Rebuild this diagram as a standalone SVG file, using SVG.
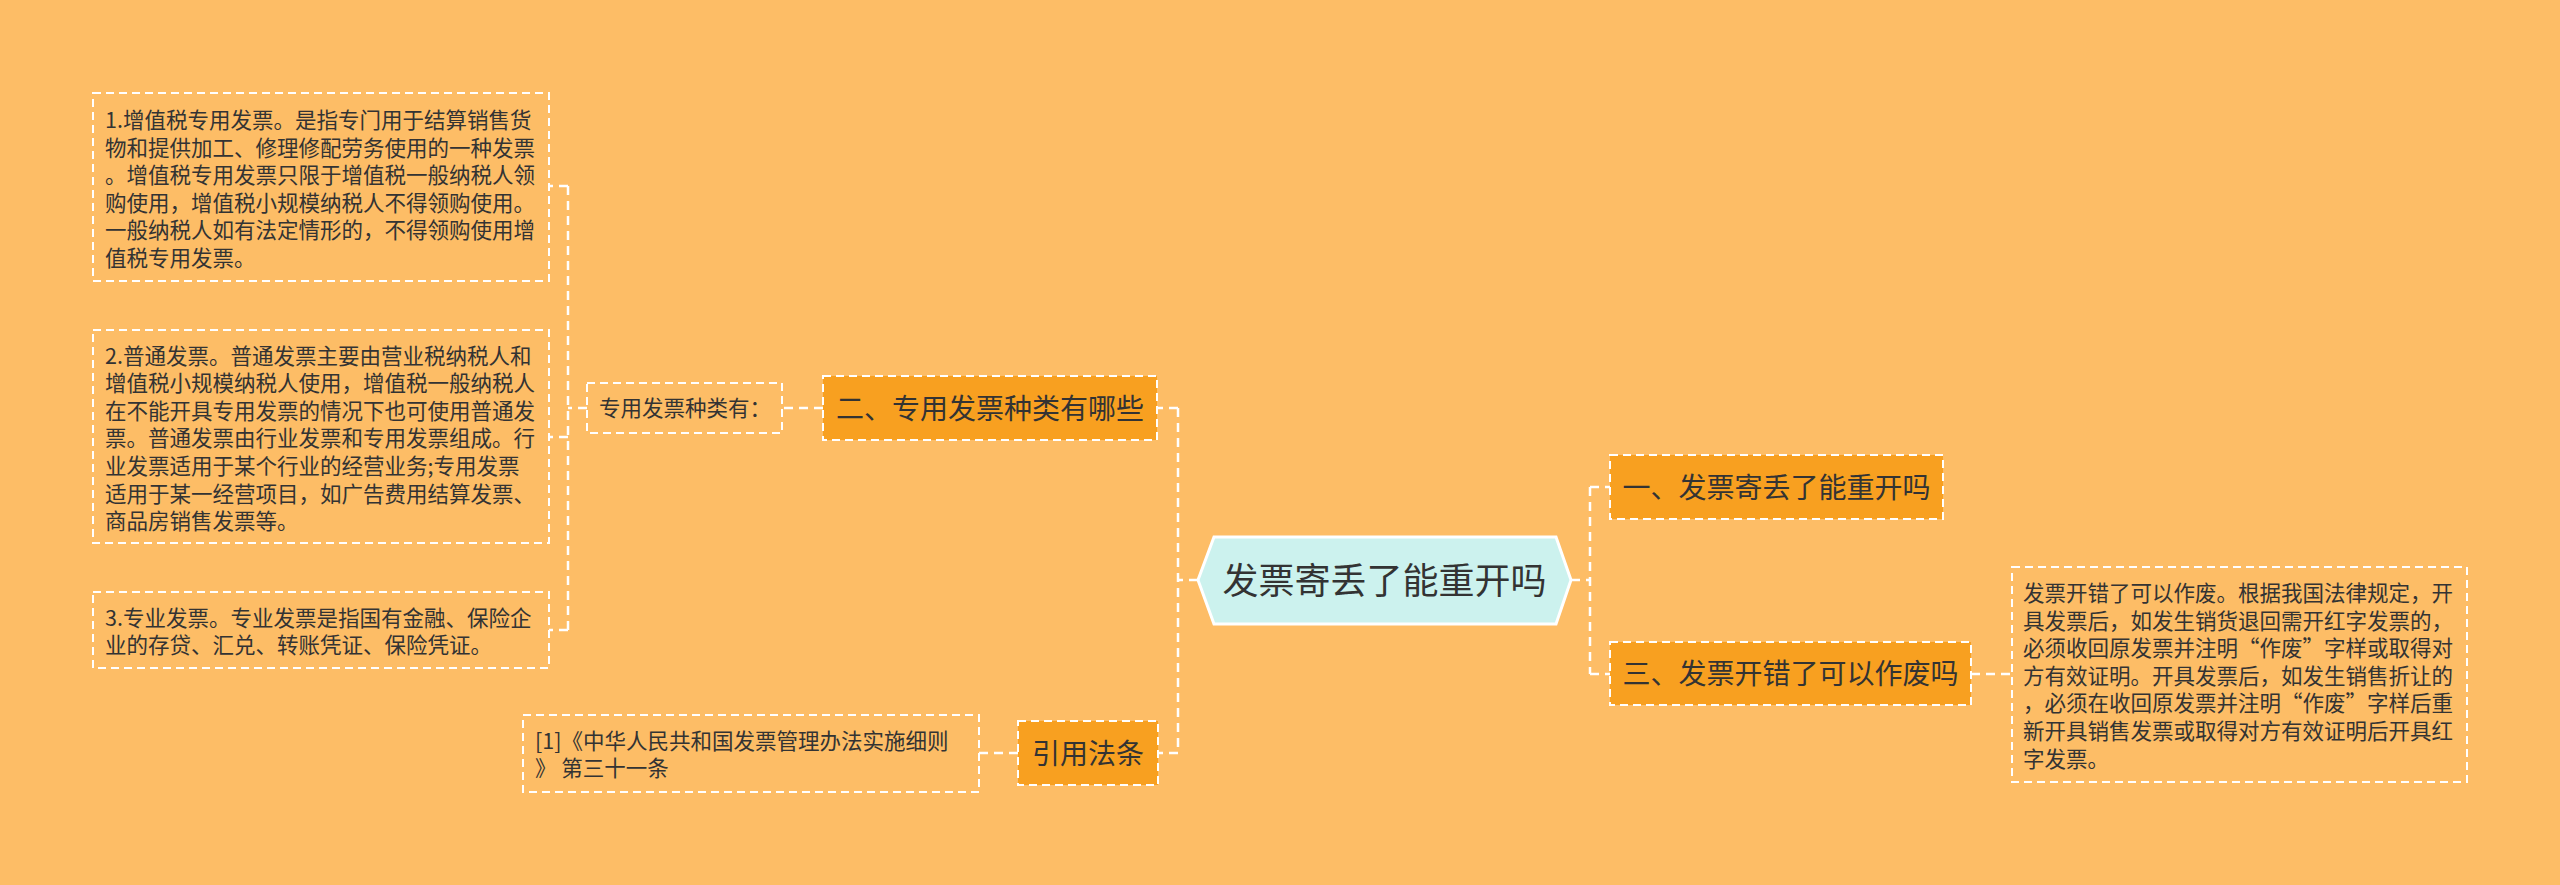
<svg xmlns="http://www.w3.org/2000/svg" width="2560" height="885" viewBox="0 0 2560 885">
<style>
.bg{fill:#FDBD66}
.leaf{fill:none;stroke:#FFFFFF;stroke-width:2;stroke-dasharray:8 5}
.l1{fill:#F8A020;stroke:#FFFFFF;stroke-width:2;stroke-dasharray:8 5}
.root{fill:#CCF2EE;stroke:#FFFFFF;stroke-width:3}
.conn{fill:none;stroke:#FFFFFF;stroke-width:2.5;stroke-dasharray:9 6}
text{font-family:"Noto Sans CJK SC","Noto Sans",sans-serif;fill:#333333}
.t-s{font-size:21.5px}
.t-m{font-size:28px}
.t-l{font-size:36px}
</style>
<rect class="bg" x="0" y="0" width="2560" height="885"/>
<g id="connectors">
<path class="conn" d="M1198,580 H1178 M1178,408 V753 M1178,408 H1157 M1178,753 H1158"/>
<path class="conn" d="M823,408 H782 M587,408 H568 M568,186 V630 M568,186 H549 M568,437 H549 M568,630 H549"/>
<path class="conn" d="M1018,753 H979"/>
<path class="conn" d="M1571,580 H1590 M1590,487 V674 M1590,487 H1610 M1590,674 H1610 M1971,674 H2012"/>
</g>
<g id="root">
<polygon class="root" points="1198,580 1214,537 1556,537 1571,580 1556,624 1214,624"/>
<text class="t-l" x="1384.5" y="593.5" text-anchor="middle">发票寄丢了能重开吗</text>
</g>
<g id="n-1">
<rect class="l1" x="1610" y="455" width="333" height="64"/>
<text class="t-m" x="1776.5" y="497.5" text-anchor="middle">一、发票寄丢了能重开吗</text>
</g>
<g id="n-3">
<rect class="l1" x="1610" y="642" width="361" height="63"/>
<text class="t-m" x="1790.5" y="684" text-anchor="middle">三、发票开错了可以作废吗</text>
</g>
<g id="n-3-detail">
<rect class="leaf" x="2012" y="567" width="455" height="215"/>
<text class="t-s" x="2023">
<tspan x="2023" y="601">发票开错了可以作废。根据我国法律规定，开</tspan>
<tspan x="2023" y="628.6">具发票后，如发生销货退回需开红字发票的，</tspan>
<tspan x="2023" y="656.2">必须收回原发票并注明“作废”字样或取得对</tspan>
<tspan x="2023" y="683.8">方有效证明。开具发票后，如发生销售折让的</tspan>
<tspan x="2023" y="711.4">，必须在收回原发票并注明“作废”字样后重</tspan>
<tspan x="2023" y="739">新开具销售发票或取得对方有效证明后开具红</tspan>
<tspan x="2023" y="766.6">字发票。</tspan>
</text>
</g>
<g id="n-2">
<rect class="l1" x="823" y="376" width="334" height="64"/>
<text class="t-m" x="990" y="418.5" text-anchor="middle">二、专用发票种类有哪些</text>
</g>
<g id="n-2-sub">
<rect class="leaf" x="587" y="383" width="195" height="50"/>
<text class="t-s" x="599" y="416">专用发票种类有：</text>
</g>
<g id="n-2-a">
<rect class="leaf" x="93" y="93" width="456" height="188"/>
<text class="t-s">
<tspan x="105" y="128">1.增值税专用发票。是指专门用于结算销售货</tspan>
<tspan x="105" y="155.6">物和提供加工、修理修配劳务使用的一种发票</tspan>
<tspan x="105" y="183.2">。增值税专用发票只限于增值税一般纳税人领</tspan>
<tspan x="105" y="210.8">购使用，增值税小规模纳税人不得领购使用。</tspan>
<tspan x="105" y="238.4">一般纳税人如有法定情形的，不得领购使用增</tspan>
<tspan x="105" y="266">值税专用发票。</tspan>
</text>
</g>
<g id="n-2-b">
<rect class="leaf" x="93" y="330" width="456" height="213"/>
<text class="t-s">
<tspan x="105" y="363.5">2.普通发票。普通发票主要由营业税纳税人和</tspan>
<tspan x="105" y="391.1">增值税小规模纳税人使用，增值税一般纳税人</tspan>
<tspan x="105" y="418.7">在不能开具专用发票的情况下也可使用普通发</tspan>
<tspan x="105" y="446.3">票。普通发票由行业发票和专用发票组成。行</tspan>
<tspan x="105" y="473.9">业发票适用于某个行业的经营业务;专用发票</tspan>
<tspan x="105" y="501.5">适用于某一经营项目，如广告费用结算发票、</tspan>
<tspan x="105" y="529.1">商品房销售发票等。</tspan>
</text>
</g>
<g id="n-2-c">
<rect class="leaf" x="93" y="592" width="456" height="76"/>
<text class="t-s">
<tspan x="105" y="625.5">3.专业发票。专业发票是指国有金融、保险企</tspan>
<tspan x="105" y="653">业的存贷、汇兑、转账凭证、保险凭证。</tspan>
</text>
</g>
<g id="n-law">
<rect class="l1" x="1018" y="721" width="140" height="64"/>
<text class="t-m" x="1088" y="763.5" text-anchor="middle">引用法条</text>
</g>
<g id="n-law-detail">
<rect class="leaf" x="523" y="715" width="456" height="77"/>
<text class="t-s">
<tspan x="535" y="748.5">[1]《中华人民共和国发票管理办法实施细则</tspan>
<tspan x="535" y="776">》 第三十一条</tspan>
</text>
</g>
</svg>
